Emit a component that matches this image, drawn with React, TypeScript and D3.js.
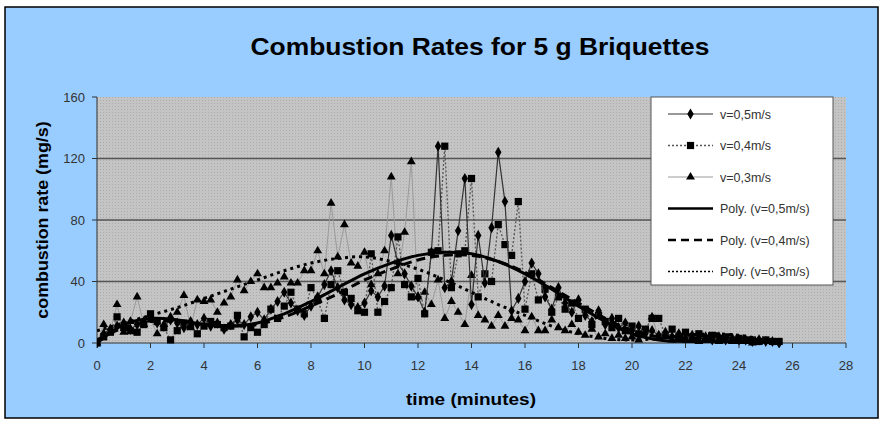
import { FC } from 'react';
import * as d3 from 'd3';

// sample times (minutes)
const times = [
  0, 0.25, 0.5, 0.75, 1, 1.25, 1.5, 1.75, 2, 2.25, 2.5, 2.75, 3, 3.25, 3.5, 3.75,
  4, 4.25, 4.5, 4.75, 5, 5.25, 5.5, 5.75, 6, 6.25, 6.5, 6.75, 7, 7.25, 7.5, 7.75,
  8, 8.25, 8.5, 8.75, 9, 9.25, 9.5, 9.75, 10, 10.25, 10.5, 10.75, 11, 11.25, 11.5, 11.75,
  12, 12.25, 12.5, 12.75, 13, 13.25, 13.5, 13.75, 14, 14.25, 14.5, 14.75, 15, 15.25, 15.5, 15.75,
  16, 16.25, 16.5, 16.75, 17, 17.25, 17.5, 17.75, 18, 18.25, 18.5, 18.75, 19, 19.25, 19.5, 19.75,
  20, 20.25, 20.5, 20.75, 21, 21.25, 21.5, 21.75, 22, 22.25, 22.5, 22.75, 23, 23.25, 23.5, 23.75,
  24, 24.25, 24.5, 24.75, 25, 25.25, 25.5,
];

const v05 = [
  0, 6, 9, 11, 13, 9, 12, 14, 17, 13, 11, 15, 13, 10, 14, 12,
  16, 11, 13, 9, 12, 15, 12, 17, 20, 15, 22, 27, 33, 26, 21, 18,
  24, 30, 38, 47, 36, 28, 25, 23, 26, 34, 30, 37, 70, 52, 45, 37,
  30, 20, 59, 128, 36, 40, 73, 107, 25, 70, 39, 75, 124, 92, 21, 29,
  40, 52, 45, 30, 22, 36, 26, 20, 28, 18, 14, 21, 12, 16, 10, 13,
  8, 11, 6, 8, 5, 7, 4, 6, 3, 5, 3, 4, 2, 4, 2, 3,
  2, 2, 1, 2, 1, 1, 0,
];

const v04 = [
  0, 4, 7, 17, 10, 8, 7, 12, 19, 14, 10, 2, 8, 13, 11, 6,
  11, 14, 12, 10, 11, 18, 4, 10, 7, 12, 22, 16, 24, 33, 22, 19,
  36, 28, 16, 38, 47, 33, 29, 21, 20, 58, 20, 27, 36, 69, 38, 30,
  42, 19, 59, 60, 128, 36, 58, 60, 107, 30, 45, 40, 77, 64, 57, 92,
  22, 45, 28, 35, 20, 30, 22, 26, 16, 22, 12, 18, 14, 10, 16, 8,
  11, 6, 9, 16, 16, 5, 9, 4, 7, 4, 6, 3, 5, 3, 4, 2,
  3, 2, 2, 1, 2, 1, 1,
];

const v03 = [
  0, 12, 8, 25, 7, 14, 30, 12, 15, 6, 12, 17, 20, 31, 10, 28,
  27, 28, 20, 26, 30, 41, 34, 40, 45, 36, 36, 39, 43, 39, 39, 47,
  47, 60, 45, 91, 56, 77, 52, 50, 59, 38, 45, 60, 108, 45, 72, 118,
  30, 33, 25, 41, 16, 27, 20, 12, 44, 18, 15, 11, 18, 11, 16, 15,
  8, 17, 8, 8, 15, 10, 8, 12, 7, 5, 9, 4, 6, 3, 5, 3,
  4, 2, 8, 17, 3, 5, 2, 4, 2, 3, 1, 3, 2, 1, 2, 1,
  1, 1, 0,
];

// trendlines
const polyTimes = [0, 1, 2, 3, 4, 5, 6, 7, 8, 9, 10, 11, 12, 13, 14, 15, 16, 17, 18, 19, 20, 21, 22, 23, 24, 25, 25.5];
const poly05 = [0, 12, 16, 15, 12, 11, 13, 19, 27, 36, 45, 52, 57, 59, 58, 53, 45, 35, 24, 14, 6, 2, 1, 1, 1, 0.5, 0];
const poly04 = [2, 10, 14, 14, 12, 11, 12, 17, 24, 32, 41, 48, 54, 57, 57, 53, 46, 36, 26, 16, 8, 4, 3, 3, 2, 1, 0];
const poly03 = [8, 13, 18, 23, 29, 35, 41, 47, 52, 55, 56, 53, 48, 41, 33, 25, 18, 11, 6, 3, 2, 3, 5, 6, 5, 2, 0.5];

const xTicks = [0, 2, 4, 6, 8, 10, 12, 14, 16, 18, 20, 22, 24, 26, 28];
const yTicks = [0, 40, 80, 120, 160];

const legendLabels = ['v=0,5m/s', 'v=0,4m/s', 'v=0,3m/s', 'Poly. (v=0,5m/s)', 'Poly. (v=0,4m/s)', 'Poly. (v=0,3m/s)'];

const W = 893;
const H = 421;
const plot = { left: 97, right: 846, top: 97, bottom: 343 };
const font = 'Arial, "Liberation Sans", sans-serif';

const App: FC = () => {
  const x = d3.scaleLinear().domain([0, 28]).range([plot.left, plot.right]);
  const y = d3.scaleLinear().domain([0, 160]).range([plot.bottom, plot.top]);

  const rawLine = d3.line<number>()
    .x((_, i) => x(times[i]))
    .y(d => y(d));

  const polyLine = d3.line<number>()
    .x((_, i) => x(polyTimes[i]))
    .y(d => y(d))
    .curve(d3.curveCatmullRom);

  const diamond = d3.symbol().type(d3.symbolDiamond).size(36)() || '';
  const square = d3.symbol().type(d3.symbolSquare).size(52)() || '';
  const triangle = d3.symbol().type(d3.symbolTriangle).size(34)() || '';

  const series = [
    { values: v03, stroke: '#9a9a9a', dash: '', width: 1, marker: triangle },
    { values: v04, stroke: '#555', dash: '2,2', width: 1.3, marker: square },
    { values: v05, stroke: '#333', dash: '', width: 1.2, marker: diamond },
  ];

  const polys = [
    { values: poly05, dash: '' },
    { values: poly04, dash: '9,5' },
    { values: poly03, dash: '3,4' },
  ];

  const legend = { x: 651, y: 97, w: 182, h: 188 };
  const legendRowY = (i: number) => legend.y + 17 + i * 31.5;
  const legendItems = [
    { stroke: '#333', dash: '', width: 1.2, marker: diamond },
    { stroke: '#555', dash: '2,2', width: 1.3, marker: square },
    { stroke: '#9a9a9a', dash: '', width: 1, marker: triangle },
    { stroke: '#000', dash: '', width: 2.5, marker: '' },
    { stroke: '#000', dash: '8,5', width: 2.5, marker: '' },
    { stroke: '#000', dash: '2,2', width: 1.5, marker: '' },
  ];

  return (
    <svg width={W} height={H} style={{ position: 'absolute', left: 0, top: 0, background: '#fff' }}>
      <defs>
        <pattern id="dots" width="3" height="3" patternUnits="userSpaceOnUse">
          <rect width="3" height="3" fill="#c4c4c4" />
          <rect x="1" y="1" width="1" height="1" fill="#ababab" />
        </pattern>
        <clipPath id="plotClip">
          <rect x={plot.left} y={plot.top - 5} width={plot.right - plot.left} height={plot.bottom - plot.top + 10} />
        </clipPath>
      </defs>

      <rect x={5} y={7} width={873} height={411} fill="#99ccff" stroke="#000" strokeWidth={1.5} />

      <text transform="translate(480,55) scale(1.1,1)" textAnchor="middle" fontFamily={font} fontWeight="bold" fontSize={24} fill="#000">
        Combustion Rates for 5 g Briquettes
      </text>

      <rect x={plot.left} y={plot.top} width={plot.right - plot.left} height={plot.bottom - plot.top} fill="url(#dots)" />

      {yTicks.filter(t => t > 0 && t < 160).map(t => (
        <line key={t} x1={plot.left} x2={plot.right} y1={y(t)} y2={y(t)} stroke="#555" strokeWidth={1.5} />
      ))}

      {/* axes */}
      <line x1={plot.left} x2={plot.left} y1={plot.top} y2={plot.bottom} stroke="#333" strokeWidth={1} />
      <line x1={plot.left} x2={plot.right} y1={plot.bottom} y2={plot.bottom} stroke="#333" strokeWidth={1} />
      {yTicks.map(t => (
        <g key={t}>
          <line x1={plot.left - 5} x2={plot.left} y1={y(t)} y2={y(t)} stroke="#333" />
          <text x={plot.left - 12} y={y(t) + 4.5} textAnchor="end" fontFamily={font} fontSize={13} fill="#333">{t}</text>
        </g>
      ))}
      {xTicks.map(t => (
        <g key={t}>
          <line x1={x(t)} x2={x(t)} y1={plot.bottom} y2={plot.bottom + 5} stroke="#333" />
          <text x={x(t)} y={plot.bottom + 27} textAnchor="middle" fontFamily={font} fontSize={13} fill="#333">{t}</text>
        </g>
      ))}

      <text transform="translate(471,405) scale(1.12,1)" textAnchor="middle" fontFamily={font} fontWeight="bold" fontSize={17} fill="#000">
        time (minutes)
      </text>
      <text transform="translate(48,220) rotate(-90) scale(1.05,1)" textAnchor="middle" fontFamily={font} fontWeight="bold" fontSize={17} fill="#000">
        combustion rate (mg/s)
      </text>

      <g clipPath="url(#plotClip)">
        {series.map((s, si) => (
          <g key={si}>
            <path d={rawLine(s.values) || ''} fill="none" stroke={s.stroke} strokeWidth={s.width} strokeDasharray={s.dash} />
            {s.values.map((v, i) => (
              <path key={i} d={s.marker} transform={`translate(${x(times[i])},${y(v)})`} fill="#000" />
            ))}
          </g>
        ))}
        {polys.map((p, pi) => (
          <path key={pi} d={polyLine(p.values) || ''} fill="none" stroke="#000" strokeWidth={3} strokeDasharray={p.dash} />
        ))}
      </g>

      {/* legend */}
      <rect x={legend.x} y={legend.y} width={legend.w} height={legend.h} fill="#fff" stroke="#555" strokeWidth={1} />
      {legendItems.map((it, i) => {
        const ly = legendRowY(i);
        return (
          <g key={i}>
            <line x1={668} x2={713} y1={ly} y2={ly} stroke={it.stroke} strokeWidth={it.width} strokeDasharray={it.dash} />
            {it.marker && <path d={it.marker} transform={`translate(690.5,${ly})`} fill="#000" />}
            <text x={720} y={ly + 4.5} fontFamily={font} fontSize={12.5} fill="#333">{legendLabels[i]}</text>
          </g>
        );
      })}
    </svg>
  );
};

export default App;
